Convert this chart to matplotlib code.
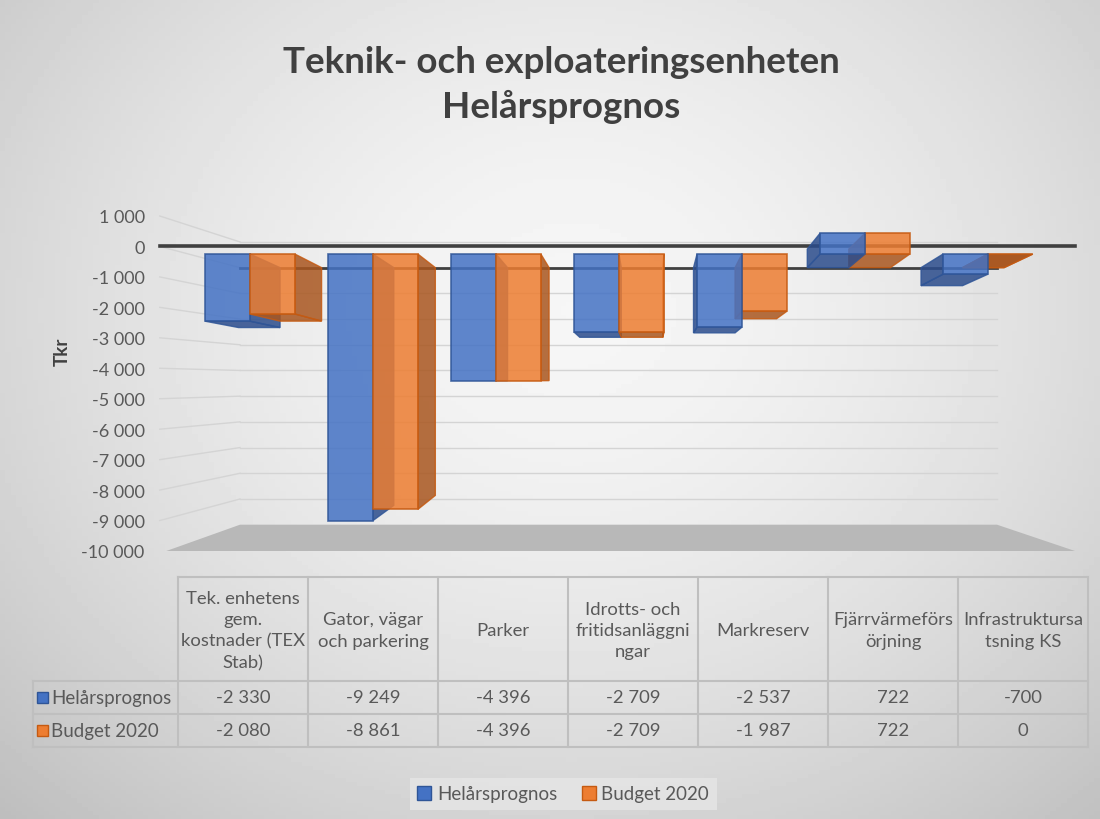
import numpy as np
import matplotlib.pyplot as plt
from matplotlib.patches import Polygon, Patch, Rectangle

plt.rcParams['font.family'] = ['Lato', 'DejaVu Sans']

# data
categories = ["Tek. enhetens\ngem.\nkostnader (TEX\nStab)", "Gator, vägar\noch parkering", "Parker",
              "Idrotts- och\nfritidsanläggni\nngar", "Markreserv", "Fjärrvärmeförs\nörjning",
              "Infrastruktursa\ntsning KS"]
series_names = ["Helårsprognos", "Budget 2020"]
helarsprognos = [-2330, -9249, -4396, -2709, -2537, 722, -700]
budget_2020 = [-2080, -8861, -4396, -2709, -1987, 722, 0]
y_ticks = list(range(-10000, 1001, 1000))
title = "Teknik- och exploateringsenheten\nHelårsprognos"

series = [helarsprognos, budget_2020]
face_cols = ["#4472c4", "#ed7d31"]
dark_cols = ["#2b4c8c", "#a9561f"]
edge_cols = ["#2f5597", "#c55a11"]
TXT = "#595959"

W, H = 1100, 820
fig = plt.figure(figsize=(W / 100, H / 100), dpi=100)

# background gradient
bg = fig.add_axes([0, 0, 1, 1], zorder=-10)
yy, xx = np.mgrid[0:1:200j, 0:1:200j]
r = np.sqrt(((xx - 0.52) / 0.75) ** 2 + ((yy - 0.38) / 0.85) ** 2)
bg.imshow(np.clip(0.965 - 0.22 * r ** 1.6, 0, 1), cmap='gray', vmin=0, vmax=1,
          extent=[0, 1, 0, 1], aspect='auto', origin='upper')
bg.set_axis_off()

fig.text(0.51, 1 - 85 / H, title, ha='center', va='center', fontsize=26.5, fontweight='bold',
         color='#404040', linespacing=1.4)

# chart axes: y from -10000..1000, x = category index
ax = fig.add_axes([178 / W, 1 - 552 / H, 910 / W, 335 / H])
ax.set_xlim(-0.5, 6.5)
ax.set_ylim(-10000, 1000)
ax.patch.set_alpha(0)
for s in ax.spines.values():
    s.set_visible(False)
ax.set_xticks([])
ax.set_yticks(y_ticks)
ax.set_yticklabels([f"{t:,}".replace(",", " ") for t in y_ticks])
ax.tick_params(axis='y', length=0, pad=24, labelsize=13, labelcolor=TXT)
fig.text(62 / W, 1 - 352 / H, "Tkr", rotation=90, ha='center', va='center',
         fontsize=13.5, fontweight='bold', color='#404040')

# simple oblique projection: front plane and back wall
FRONT = (0.054, 0.946, -250, 0.946)
BACK = (0.285, 0.875, -696, 0.844)


def proj(x, v, d):
    xf, vf = FRONT[0] + FRONT[1] * x, FRONT[2] + FRONT[3] * v
    xb, vb = BACK[0] + BACK[1] * x, BACK[2] + BACK[3] * v
    return xf + (xb - xf) * d, vf + (vb - vf) * d


x_lab, x_wall0, x_wall1, x_front1 = -0.64, -0.023, 5.8, 6.4

# floor
fl = -10000
ax.add_patch(Polygon([(x_lab + 0.05, fl), (x_front1, fl), (x_wall1, proj(0, fl, 1)[1]),
                      (x_wall0, proj(0, fl, 1)[1])], closed=True, facecolor='#b8b8b8',
                     edgecolor='none', clip_on=False, zorder=1))

# gridlines on back wall
for t in y_ticks[1:]:
    yb = proj(0, t, 1)[1]
    c, lw = ('#d4d4d4', 1.0) if t != 0 else ('#404040', 2.0)
    ax.plot([x_lab, x_wall0], [t, yb], color='#d4d4d4', lw=1.0, clip_on=False, zorder=1)
    ax.plot([x_wall0, x_wall1], [yb, yb], color=c, lw=lw, clip_on=False, zorder=1)
ax.plot([x_lab, x_front1], [0, 0], color='#404040', lw=2.6, clip_on=False, zorder=2)

# bars
bw = 0.365
for i in range(len(categories)):
    bars = []
    for k, vals in enumerate(series):
        x0 = i - bw + k * bw
        bars.append((k, x0, x0 + bw, vals[i]))
    # draw far-side bar first
    shift = proj(i, 0, 1)[0] - proj(i, 0, 0)[0]
    if shift < 0:
        bars = bars[::-1]
    for k, x0, x1, val in bars:
        lo, hi = min(0, val), max(0, val)
        faces = []
        # side face
        xs = x1 if shift > 0 else x0
        faces.append([proj(xs, lo, 0), proj(xs, hi, 0), proj(xs, hi, 1), proj(xs, lo, 1)])
        # caps
        for vv, sign in ((lo, -1), (hi, 1)):
            dv = proj(0, vv, 1)[1] - proj(0, vv, 0)[1]
            if dv * sign > 0 or vv == val == 0:
                faces.append([proj(x0, vv, 0), proj(x1, vv, 0), proj(x1, vv, 1), proj(x0, vv, 1)])
        z = 3 + 0.1 * i
        for f in faces:
            ax.add_patch(Polygon(f, closed=True, facecolor=dark_cols[k], edgecolor=edge_cols[k],
                                 lw=1.0, alpha=0.85, zorder=z))
        if val != 0:
            front = [proj(x0, lo, 0), proj(x1, lo, 0), proj(x1, hi, 0), proj(x0, hi, 0)]
            ax.add_patch(Polygon(front, closed=True, facecolor=face_cols[k], edgecolor=edge_cols[k],
                                 lw=1.2, alpha=0.85, zorder=z + 0.01))

# data table
tab = fig.add_axes([0, 0, 1, 1], zorder=5)
tab.set_xlim(0, W)
tab.set_ylim(H, 0)
tab.set_axis_off()
col_edges = [178 + 130 * j for j in range(len(categories) + 1)]
row_edges = [578, 682, 715, 748]
gc = '#bfbfbf'
for y in row_edges:
    tab.plot([178 if y == 578 else 33, col_edges[-1]], [y, y], color=gc, lw=1.5)
for x in col_edges:
    tab.plot([x, x], [578, 748], color=gc, lw=1.5)
tab.plot([33, 33], [682, 748], color=gc, lw=1.5)
for j, cat in enumerate(categories):
    cx = (col_edges[j] + col_edges[j + 1]) / 2
    tab.text(cx, (578 + 682) / 2 + 1, cat, ha='center', va='center', fontsize=13.3, color=TXT,
             linespacing=1.42)
    for k, vals in enumerate(series):
        cy = (row_edges[k + 1] + row_edges[k + 2]) / 2
        tab.text(cx, cy, f"{vals[j]:,}".replace(",", " "), ha='center', va='center',
                 fontsize=13.3, color=TXT)
for k, name in enumerate(series_names):
    cy = (row_edges[k + 1] + row_edges[k + 2]) / 2
    tab.add_patch(Rectangle((37, cy - 5.5), 11, 11, facecolor=face_cols[k], edgecolor=edge_cols[k], lw=1))
    tab.text(51, cy, name, ha='left', va='center', fontsize=13.5, color=TXT)

handles = [Patch(facecolor=face_cols[k], edgecolor=edge_cols[k], label=series_names[k]) for k in range(2)]
leg = fig.legend(handles=handles, loc='center', bbox_to_anchor=(0.512, 1 - 795 / H), ncol=2,
                 frameon=True, fontsize=13.5, handlelength=0.75, handleheight=0.75,
                 handletextpad=0.3, columnspacing=1.3, fancybox=False, borderpad=0.4)
leg.get_frame().set_facecolor('#e6e6e6')
leg.get_frame().set_edgecolor('none')
for t in leg.get_texts():
    t.set_color(TXT)

fig.savefig("out.png", dpi=100)
